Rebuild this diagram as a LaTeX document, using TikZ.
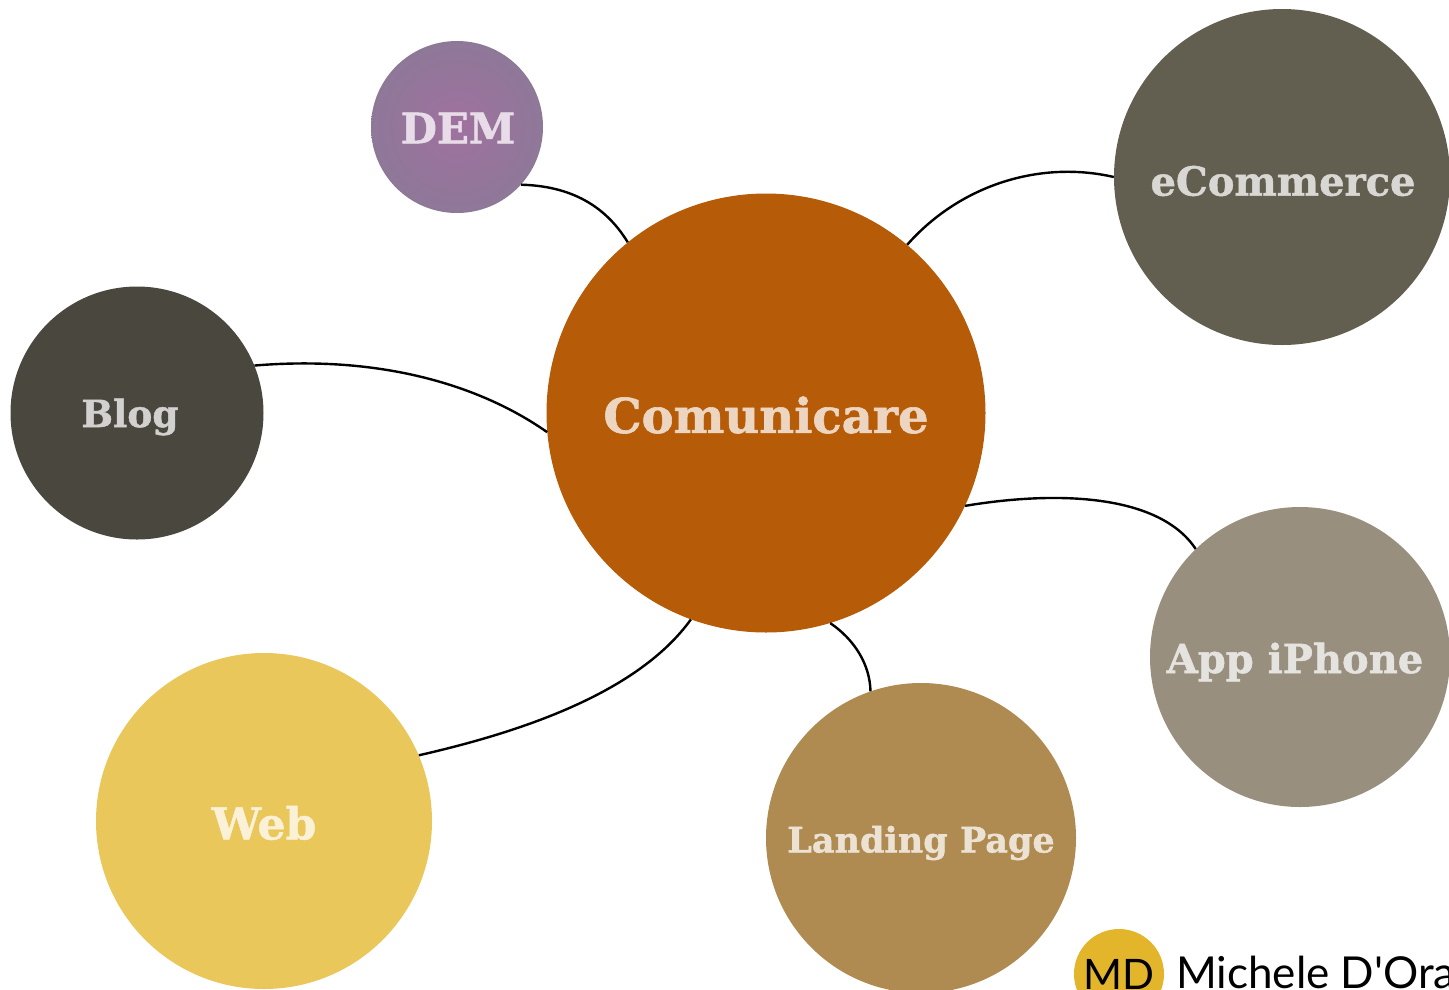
\documentclass[tikz,border=0pt]{standalone}
\usepackage{fontspec}
\newfontfamily\bubblefont{DejaVu Serif}[BoldFeatures={FakeBold=1.2}]
\newfontfamily\handfont{Lato}
\definecolor{maincol}{HTML}{B65C08}
\definecolor{demin}{HTML}{A0719F}
\definecolor{demout}{HTML}{8E7898}
\definecolor{shopcol}{HTML}{635F50}
\definecolor{blogcol}{HTML}{4A473F}
\definecolor{appcol}{HTML}{998F7E}
\definecolor{landcol}{HTML}{AF8B52}
\definecolor{webcol}{HTML}{EAC75B}
\definecolor{logocol}{HTML}{E3B52B}
\begin{document}
\begin{tikzpicture}[
            x=1pt, y=-1pt,
            every node/.style={circle, inner sep=0pt},
            bubble/.style 2 args={fill=#1, minimum size=#2},
            caption/.style 2 args={rectangle, text=#1!25!white, font=\bubblefont\bfseries\fontsize{#2}{#2}\selectfont},
            link/.style={draw, line width=2.4pt}
            ]
        \path[clip] (0,0) rectangle (1449,989);
        \node[bubble={maincol}{439pt}] (comunicare) at (766,413) {};
        \node[bubble={shopcol}{336pt}] (shop) at (1282,177) {};
        \node[bubble={blogcol}{253pt}] (blog) at (137,413) {};
        \node[bubble={appcol}{300pt}] (app) at (1300,657) {};
        \node[bubble={landcol}{310pt}] (landing) at (921,838) {};
        \node[bubble={webcol}{336pt}] (web) at (264,821) {};
        \node[minimum size=172pt, shading=radial, inner color=demin, outer color=demout] (dem) at (457,127) {};
        \node[bubble={logocol}{90pt}, font=\handfont\fontsize{42}{42}\selectfont] (logo) at (1119,974) {MD};
        \node[anchor=base west, rectangle, font=\handfont\fontsize{44}{44}\selectfont] (author) at (1176,988) {Michele D'Orazi};
        % labels
        \node[caption={maincol}{48}] (comunicaretext) at (766,415) {Comunicare};
        \node[caption={shopcol}{40}] (shoptext) at (1283,181) {eCommerce};
        \node[caption={blogcol}{37.5}] (blogtext) at (130,417) {Blog};
        \node[caption={appcol}{40}] (apptext) at (1295,662) {App iPhone};
        \node[caption={landcol}{35}] (landingtext) at (921,843) {Landing Page};
        \node[caption={webcol}{44}] (webtext) at (264,823) {Web};
        \node[caption={demin}{42}] (demtext) at (458,128) {DEM};
        % connectors
        \draw[link] (dem.-42) .. controls (570,186) and (605,205) .. (comunicare.129);
        \draw[link] (comunicare.50) .. controls (960,185) and (1040,160) .. (shop.180);
        \draw[link] (comunicare.185) .. controls (480,385) and (380,355) .. (blog.22);
        \draw[link] (comunicare.-25) .. controls (1060,490) and (1160,495) .. (app.134);
        \draw[link] (comunicare.-73) .. controls (855,640) and (870,665) .. (landing.109);
        \draw[link] (comunicare.250) .. controls (640,690) and (530,730) .. (web.23);
\end{tikzpicture}
\end{document}
